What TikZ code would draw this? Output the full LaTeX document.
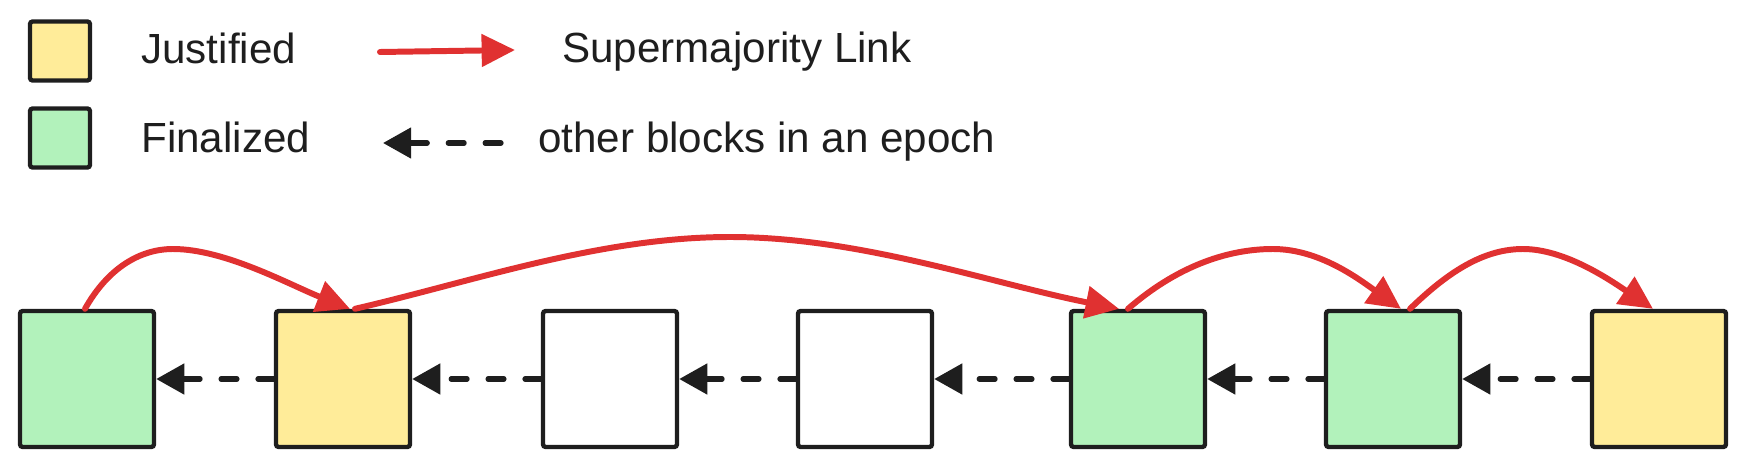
\documentclass[tikz,border=0pt]{standalone}
\usepackage{fontspec}
\setmainfont{Liberation Sans}
\usepackage{tikz}
\usetikzlibrary{arrows.meta,calc,positioning}
\definecolor{ink}{HTML}{1E1E1E}
\definecolor{linkred}{HTML}{E03131}
\definecolor{just}{HTML}{FFEC99}
\definecolor{final}{HTML}{B2F2BB}
\tikzset{
  block/.style={draw=ink,line width=2.5pt,rounded corners=1.5pt,minimum width=2.68cm,minimum height=2.72cm,inner sep=0pt},
  legbox/.style={draw=ink,line width=2.5pt,rounded corners=1.5pt,minimum width=1.2cm,minimum height=1.18cm,inner sep=0pt},
  legtext/.style={anchor=base west,inner sep=0pt,text=ink,font=\fontsize{24}{29}\selectfont},
  supermaj/.style={-{Triangle[length=19pt,width=18pt]},draw=linkred,line width=3.4pt,line cap=round},
  epoch/.style={-{Triangle[length=16pt,width=17pt]},draw=ink,line width=3pt,line cap=round,dash pattern=on 9pt off 12pt}
}
\begin{document}
\begin{tikzpicture}[x=0.02cm,y=-0.02cm]
  \useasboundingbox (0,0) rectangle (1746,466);
  % legend
  \node[legbox,fill=just] (legJ) at (60,51) {};
  \node[legbox,fill=final] (legF) at (60,138) {};
  \node[legtext] (txtJ) at (141,64) {Justified};
  \node[legtext] (txtF) at (141,152) {Finalized};
  \node[legtext] (txtS) at (562,63) {Supermajority Link};
  \node[legtext] (txtO) at (538,152) {other blocks in an epoch};
  \coordinate (sTail) at (380,52); \coordinate (sHead) at (515,50);
  \coordinate (oTail) at (501,143); \coordinate (oHead) at (383,143);
  \draw[supermaj] (sTail) -- (sHead);
  \draw[epoch] (oTail) -- (oHead);
  % chain of blocks
  \node[block,fill=final] (blk1) at (87,379) {};
  \node[block,fill=just] (blk2) at (343,379) {};
  \node[block,fill=white] (blk3) at (610,379) {};
  \node[block,fill=white] (blk4) at (865,379) {};
  \node[block,fill=final] (blk5) at (1138,379) {};
  \node[block,fill=final] (blk6) at (1393,379) {};
  \node[block,fill=just] (blk7) at (1659,379) {};
  \foreach \a/\b in {1/2,2/3,3/4,4/5,5/6,6/7}
    \draw[epoch] (blk\b.west) -- (blk\a.east);
  % supermajority links
  \draw[supermaj] ($(blk1.north)+(-2,0)$) .. controls (108,268) and (140,249) .. (173,249)
    .. controls (225,249) and (290,285) .. ($(blk2.north)+(7,0)$);
  \draw[supermaj] ($(blk2.north)+(12,0)$) .. controls (475,281) and (600,237) .. (730,237)
    .. controls (860,237) and (990,283) .. ($(blk5.north)+(-19,0)$);
  \draw[supermaj] ($(blk5.north)+(-10,0)$) .. controls (1175,268) and (1225,249) .. (1273,249)
    .. controls (1320,249) and (1360,280) .. ($(blk6.north)+(8,0)$);
  \draw[supermaj] ($(blk6.north)+(17,0)$) .. controls (1450,270) and (1485,249) .. (1523,249)
    .. controls (1565,249) and (1610,280) .. ($(blk7.north)+(-6,0)$);
\end{tikzpicture}
\end{document}
